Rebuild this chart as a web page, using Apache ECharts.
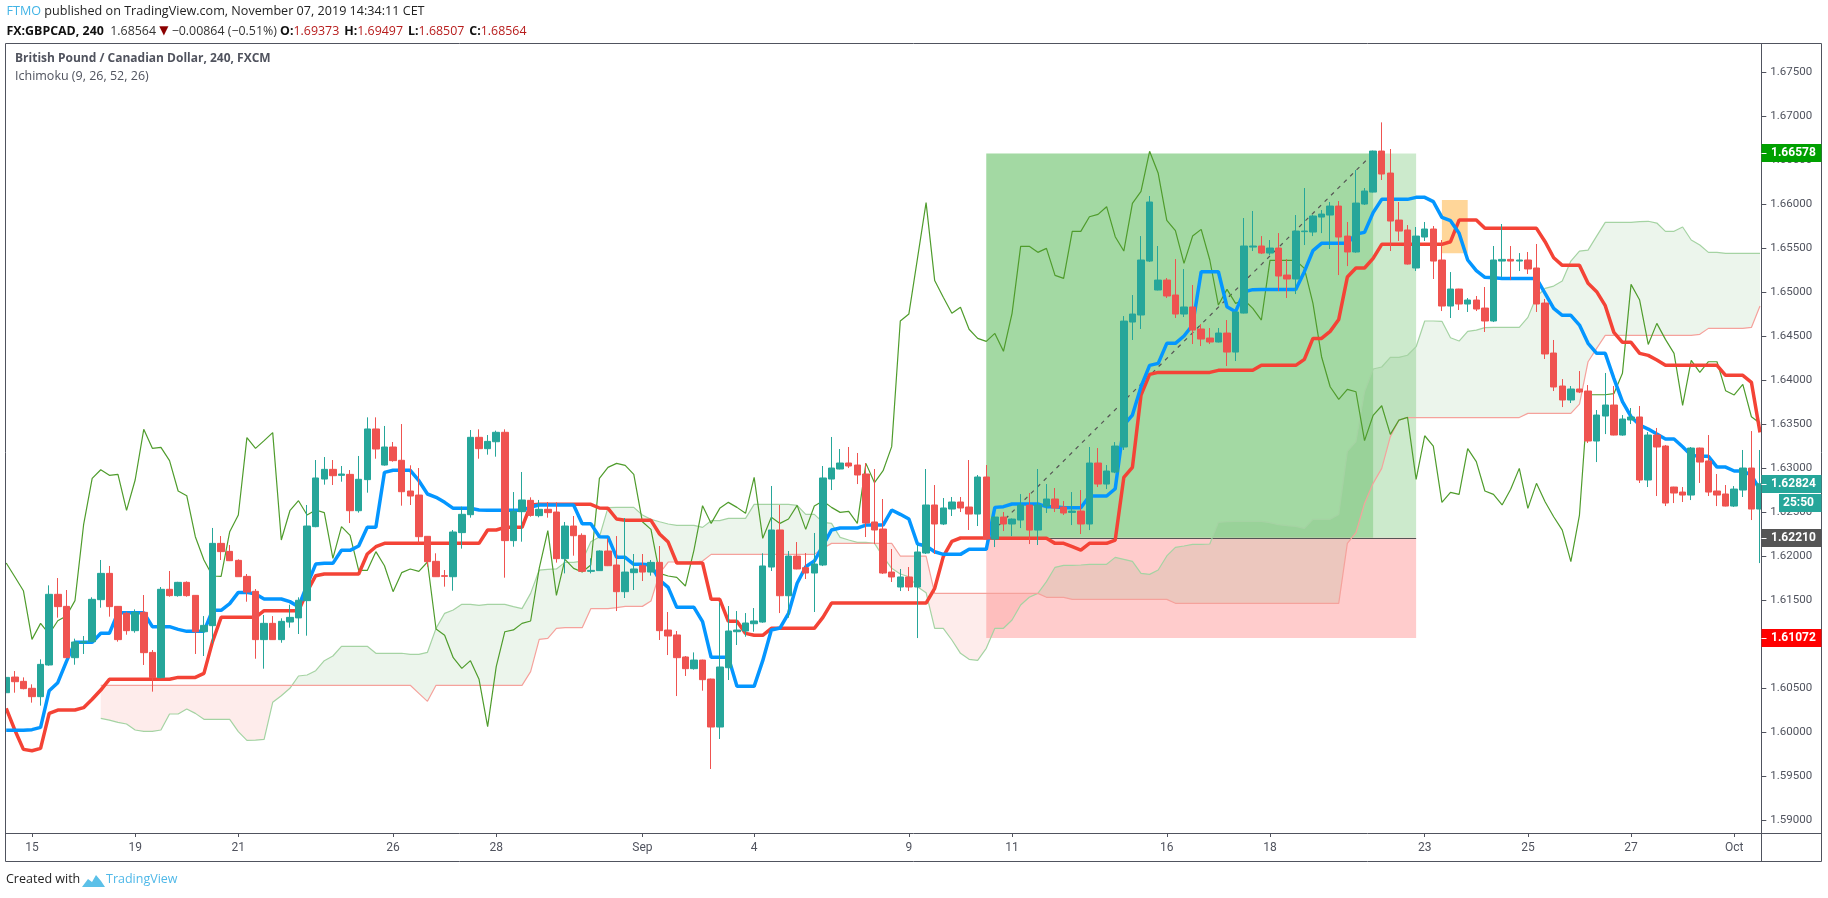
<!DOCTYPE html>
<html><head><meta charset="utf-8">
<style>html,body{margin:0;padding:0;background:#fff;overflow:hidden}#c{width:1828px;height:898px}</style>
<script src="https://cdn.jsdelivr.net/npm/echarts@6/dist/echarts.min.js"></script>
</head><body><div id="c"></div>
<script>
const opens=[1.6045,1.60628,1.60579,1.605,1.60405,1.60765,1.61568,1.61431,1.60848,1.61018,
1.6103,1.61507,1.61806,1.61431,1.61352,1.61155,1.61363,1.60908,1.60621,1.61625,
1.61553,1.61704,1.61556,1.61143,1.61212,1.62147,1.62056,1.61954,1.61772,1.61602,
1.61053,1.61238,1.61053,1.61253,1.6130,1.61496,1.62337,1.62878,1.62988,1.6292,
1.62931,1.62518,1.62871,1.63447,1.63037,1.63242,1.63091,1.62742,1.62696,1.62227,
1.61943,1.6178,1.61768,1.62269,1.62473,1.63352,1.63223,1.63302,1.63409,1.62178,
1.62507,1.62636,1.62462,1.62534,1.62503,1.61973,1.62344,1.62238,1.61829,1.61837,
1.6206,1.61901,1.61598,1.61814,1.61893,1.61821,1.61931,1.61162,1.61106,1.60856,
1.60723,1.60821,1.60605,1.6006,1.60734,1.61143,1.61151,1.61234,1.61253,1.61878,
1.62299,1.61552,1.62003,1.61871,1.6181,1.61901,1.62878,1.62992,1.6306,1.63037,
1.62935,1.6239,1.6231,1.61821,1.61651,1.61765,1.61651,1.62037,1.62583,1.62367,
1.62537,1.62617,1.6256,1.6248,1.62901,1.62196,1.62446,1.62367,1.62412,1.62582,
1.62298,1.62571,1.62651,1.6256,1.62499,1.62514,1.62367,1.6306,1.62821,1.62957,
1.63242,1.64662,1.64742,1.65355,1.65026,1.65139,1.64969,1.64753,1.64833,1.64583,
1.6448,1.64435,1.64537,1.64321,1.64764,1.65514,1.65526,1.65446,1.65503,1.65196,
1.65151,1.65689,1.65685,1.65855,1.65878,1.6598,1.65639,1.65458,1.66003,1.66139,
1.66605,1.66355,1.65821,1.65708,1.65276,1.65628,1.65719,1.65367,1.64844,1.65037,
1.64867,1.64912,1.64821,1.64674,1.65355,1.65374,1.65355,1.65367,1.65276,1.64878,
1.6431,1.63935,1.63776,1.63901,1.63878,1.6331,1.63594,1.63719,1.63378,1.63549,
1.63583,1.62867,1.63378,1.63253,1.62787,1.6273,1.62696,1.6323,1.63083,1.62742,
1.62708,1.62571,1.62753,1.63003,1.62537];
const closes=[1.60624,1.60575,1.60496,1.60405,1.60772,1.61568,1.61428,1.60848,1.61026,1.6103,
1.61511,1.61806,1.61428,1.61053,1.61155,1.61363,1.60905,1.60621,1.61625,1.61553,
1.61704,1.61553,1.61143,1.61215,1.62147,1.62053,1.6195,1.61768,1.61594,1.61053,
1.61238,1.61053,1.61261,1.61306,1.615,1.62344,1.6289,1.62988,1.62916,1.62935,
1.62518,1.62875,1.63447,1.63219,1.63242,1.63087,1.62734,1.62685,1.62223,1.61939,
1.61768,1.61772,1.62276,1.62477,1.63352,1.63223,1.63306,1.63409,1.62178,1.62511,
1.6264,1.62465,1.62534,1.62496,1.61973,1.62344,1.62234,1.61829,1.6184,1.6206,
1.61893,1.61598,1.61821,1.61856,1.61821,1.61931,1.61155,1.61094,1.60848,1.60723,
1.60821,1.60598,1.6006,1.60742,1.61151,1.61162,1.61242,1.61265,1.6189,1.62299,
1.61552,1.62003,1.61856,1.6181,1.61912,1.6289,1.63003,1.6306,1.63026,1.62924,
1.62378,1.62299,1.6181,1.61765,1.61765,1.61651,1.62049,1.62583,1.62367,1.62549,
1.62617,1.62549,1.6248,1.62901,1.62196,1.62446,1.62367,1.62423,1.62582,1.62298,
1.62582,1.62651,1.62548,1.62492,1.62514,1.62367,1.6306,1.62821,1.62969,1.63253,
1.64673,1.64753,1.65367,1.66026,1.65139,1.64958,1.64753,1.64833,1.64571,1.64469,
1.64435,1.64537,1.64321,1.64776,1.65526,1.65526,1.65446,1.65503,1.65185,1.65151,
1.65696,1.65696,1.65867,1.65889,1.6598,1.65628,1.65458,1.66014,1.66151,1.66605,
1.66344,1.6581,1.65696,1.65321,1.65639,1.65719,1.65355,1.64844,1.65037,1.64867,
1.64912,1.6481,1.64674,1.65367,1.65374,1.65355,1.65367,1.65265,1.64867,1.64299,
1.63924,1.63776,1.63901,1.63867,1.6331,1.63605,1.63719,1.63378,1.6356,1.63583,
1.62867,1.63378,1.63242,1.62605,1.62719,1.62696,1.6323,1.63071,1.6273,1.62696,
1.62571,1.62764,1.63003,1.62537,1.62824];
const lows=[1.60424,1.6045,1.60488,1.60337,1.60303,1.60757,1.61303,1.60844,1.60768,1.6089,
1.61026,1.61416,1.61314,1.6103,1.61109,1.61132,1.60765,1.60462,1.60613,1.61541,
1.61541,1.61541,1.6089,1.60867,1.61011,1.61958,1.61946,1.61765,1.61484,1.60836,
1.60723,1.6105,1.61018,1.61189,1.61117,1.61098,1.6233,1.62814,1.6281,1.62848,
1.62378,1.62496,1.62723,1.63109,1.6303,1.63075,1.62575,1.62583,1.62147,1.61882,
1.61765,1.61655,1.61609,1.62087,1.62439,1.63109,1.63155,1.63132,1.61757,1.62109,
1.62166,1.6245,1.62443,1.62439,1.61928,1.61806,1.62007,1.61825,1.61806,1.61833,
1.61889,1.61378,1.61526,1.61617,1.61719,1.6178,1.61049,1.60878,1.60412,1.6064,
1.60712,1.60473,1.59583,1.59924,1.60594,1.60992,1.61086,1.61143,1.61245,1.61833,
1.61355,1.61302,1.61852,1.61742,1.61367,1.61889,1.62753,1.62988,1.63003,1.62821,
1.62219,1.6214,1.61799,1.61708,1.61605,1.61605,1.61071,1.62026,1.62026,1.62355,
1.62458,1.62503,1.62299,1.62344,1.62185,1.62105,1.62287,1.6223,1.62321,1.62139,
1.62128,1.62492,1.62503,1.62469,1.62355,1.62253,1.62298,1.62787,1.62764,1.62945,
1.63208,1.64458,1.64583,1.65344,1.65022,1.64935,1.64708,1.64719,1.64412,1.64389,
1.64412,1.6443,1.64162,1.64219,1.6476,1.65469,1.65435,1.65423,1.65014,1.64935,
1.6498,1.65537,1.65639,1.65673,1.65492,1.65196,1.65298,1.6545,1.65992,1.66135,
1.66276,1.65469,1.65583,1.65315,1.65242,1.65583,1.65151,1.64787,1.64708,1.64799,
1.64776,1.64787,1.64549,1.64662,1.65174,1.65139,1.65242,1.65208,1.64776,1.64242,
1.63878,1.63696,1.63742,1.63855,1.63287,1.63071,1.63389,1.63374,1.6337,1.63503,
1.62833,1.62787,1.62685,1.62571,1.62605,1.62617,1.62639,1.62833,1.62685,1.62571,
1.62567,1.6256,1.62674,1.62412,1.61923];
const highs=[1.60651,1.60696,1.60624,1.60545,1.60829,1.6167,1.61753,1.61617,1.61064,1.61094,
1.61534,1.61958,1.6189,1.61435,1.61371,1.61397,1.6156,1.60935,1.61651,1.61833,
1.6171,1.61715,1.6156,1.61321,1.62322,1.6223,1.62128,1.61965,1.61799,1.61628,
1.61333,1.61321,1.61295,1.6145,1.61534,1.62583,1.63094,1.63128,1.63094,1.63026,
1.6298,1.6314,1.63579,1.63579,1.63481,1.63299,1.63503,1.63034,1.63003,1.6223,
1.62034,1.61844,1.62299,1.62564,1.63435,1.63443,1.63378,1.63428,1.63443,1.6273,
1.62958,1.6267,1.6264,1.62617,1.62613,1.6239,1.62458,1.62261,1.61977,1.62068,
1.62204,1.6223,1.62435,1.62026,1.62026,1.61958,1.62117,1.61367,1.61151,1.60867,
1.60908,1.60825,1.6061,1.61473,1.61435,1.61378,1.61355,1.61412,1.62034,1.62799,
1.62583,1.6206,1.62162,1.62037,1.62265,1.63026,1.63356,1.63219,1.63242,1.63174,
1.6306,1.62992,1.62651,1.62083,1.61856,1.61878,1.62128,1.62992,1.6281,1.62662,
1.62674,1.62674,1.63094,1.62924,1.63037,1.62452,1.62503,1.6243,1.62707,1.62719,
1.62992,1.62821,1.62776,1.62628,1.6273,1.62753,1.63242,1.6323,1.63037,1.63298,
1.6473,1.64969,1.65639,1.66094,1.65526,1.65162,1.65378,1.65264,1.65083,1.64639,
1.64594,1.64594,1.64685,1.6478,1.65844,1.65924,1.65639,1.65594,1.65673,1.65378,
1.65878,1.66185,1.65878,1.65935,1.66026,1.66037,1.65799,1.66389,1.66185,1.6661,
1.66931,1.66628,1.66026,1.65764,1.65742,1.65799,1.65753,1.65594,1.6523,1.6504,
1.64935,1.64958,1.6506,1.65526,1.65776,1.65526,1.65446,1.65458,1.65549,1.64924,
1.64458,1.64014,1.63935,1.64105,1.63946,1.63662,1.64083,1.63935,1.63605,1.63685,
1.63708,1.63412,1.63458,1.63265,1.6279,1.62787,1.63242,1.63235,1.63378,1.62935,
1.6281,1.62798,1.63208,1.63423,1.63208];
const tenkan=[1.60022,1.60022,1.60022,1.6003,1.60056,1.60473,1.60564,1.60803,1.61022,1.61022,
1.61022,1.61125,1.61125,1.61359,1.61359,1.61359,1.61359,1.612,1.612,1.612,
1.6117,1.61147,1.61147,1.61147,1.61386,1.61386,1.61462,1.6159,1.6159,1.61572,
1.61515,1.61515,1.61515,1.61485,1.61428,1.61674,1.61912,1.6192,1.6192,1.62068,
1.62068,1.62117,1.62329,1.62329,1.62954,1.62977,1.62977,1.62977,1.62859,1.62708,
1.6267,1.62613,1.62545,1.62545,1.62545,1.62526,1.62522,1.62522,1.62522,1.62522,
1.62522,1.6256,1.62583,1.62583,1.62583,1.62583,1.62583,1.62371,1.62371,1.62223,
1.6222,1.61988,1.61988,1.61909,1.61909,1.61901,1.6173,1.61647,1.6142,1.6142,
1.6142,1.61257,1.60852,1.60852,1.60852,1.60522,1.60522,1.60522,1.60814,1.61162,
1.61185,1.61352,1.61693,1.61882,1.61946,1.62121,1.62299,1.62321,1.62321,1.62321,
1.62355,1.62355,1.62355,1.62526,1.62477,1.62424,1.6214,1.62117,1.62052,1.62022,
1.62022,1.62022,1.62079,1.62079,1.62079,1.62556,1.62564,1.62594,1.62594,1.62594,
1.62594,1.62564,1.62564,1.62552,1.62552,1.62552,1.62685,1.62685,1.62685,1.62768,
1.63492,1.63605,1.63927,1.6417,1.64192,1.6442,1.6442,1.64503,1.64628,1.65234,
1.65234,1.65234,1.64836,1.6478,1.65007,1.6503,1.65033,1.65033,1.65033,1.65033,
1.65033,1.65234,1.65473,1.65556,1.65556,1.65556,1.65556,1.65662,1.65681,1.65905,
1.66056,1.66056,1.66056,1.66056,1.66079,1.66079,1.6603,1.65852,1.65814,1.6567,
1.65367,1.65246,1.6517,1.65166,1.65158,1.65158,1.65158,1.65158,1.65158,1.64988,
1.64817,1.64738,1.64738,1.64628,1.6442,1.64306,1.64306,1.64022,1.63757,1.63586,
1.63492,1.63446,1.63389,1.63333,1.63333,1.63245,1.63147,1.63136,1.63136,1.63014,
1.63014,1.62969,1.62969,1.62923,1.62753];
const kijun=[1.60272,1.60026,1.59806,1.59791,1.59817,1.60215,1.60253,1.60253,1.60253,1.6028,
1.60375,1.6048,1.60602,1.60602,1.60602,1.60602,1.60602,1.60602,1.60602,1.60602,
1.60624,1.60624,1.60624,1.6067,1.6103,1.61306,1.61306,1.61306,1.61306,1.61306,
1.61382,1.61382,1.61382,1.61382,1.61382,1.61598,1.6178,1.61799,1.61799,1.61799,
1.61799,1.61799,1.62026,1.62109,1.62147,1.62147,1.62147,1.62147,1.62147,1.62147,
1.62147,1.62147,1.62147,1.62147,1.62147,1.62147,1.62299,1.62299,1.62329,1.62329,
1.62329,1.62583,1.62591,1.62591,1.62591,1.62591,1.62591,1.62591,1.62591,1.62549,
1.62545,1.62424,1.62409,1.62409,1.62409,1.62409,1.62253,1.62162,1.61924,1.61924,
1.61924,1.61924,1.61511,1.61511,1.61261,1.61261,1.61124,1.61102,1.61102,1.61181,
1.61181,1.61181,1.61181,1.61181,1.61181,1.61306,1.61469,1.61469,1.61469,1.61469,
1.61469,1.61469,1.61469,1.61469,1.61469,1.61469,1.61469,1.61469,1.61636,1.61996,
1.6217,1.62208,1.62208,1.62208,1.62208,1.62204,1.62204,1.62204,1.62204,1.62204,
1.62204,1.62204,1.62147,1.62147,1.62109,1.62071,1.62147,1.62147,1.62147,1.62185,
1.62897,1.63011,1.63833,1.64067,1.6409,1.6409,1.6409,1.6409,1.6409,1.6409,
1.6409,1.64113,1.64113,1.64113,1.64113,1.64113,1.6417,1.6417,1.6417,1.6417,
1.6417,1.64238,1.64476,1.64476,1.64556,1.64692,1.65173,1.65276,1.65276,1.65386,
1.65545,1.65545,1.65545,1.65545,1.65545,1.65545,1.65545,1.65545,1.65575,1.65821,
1.65821,1.65821,1.65727,1.65727,1.65727,1.65727,1.65727,1.65727,1.65727,1.65575,
1.65393,1.65306,1.65306,1.65306,1.65102,1.65007,1.64848,1.64545,1.64431,1.64431,
1.64306,1.64283,1.6423,1.6417,1.6417,1.6417,1.6417,1.6417,1.6417,1.6417,
1.64056,1.64056,1.64056,1.63977,1.63408];
const chikou=[1.61924,1.61768,1.61609,1.61056,1.61238,1.61117,1.61268,1.61321,1.61496,1.62356,
1.62886,1.62984,1.6292,1.62931,1.62522,1.62867,1.63443,1.63227,1.63238,1.63087,
1.62742,1.62689,1.62223,1.61958,1.61776,1.61772,1.6228,1.62469,1.63348,1.63227,
1.63314,1.63405,1.62185,1.62518,1.62632,1.62469,1.62526,1.62496,1.61977,1.62337,
1.62238,1.6184,1.6184,1.62053,1.61893,1.61598,1.61814,1.61856,1.61829,1.61935,
1.61174,1.61102,1.60848,1.60727,1.60814,1.60602,1.60064,1.60746,1.61143,1.61163,
1.61238,1.61265,1.61863,1.62291,1.61556,1.61965,1.61863,1.61821,1.61901,1.62886,
1.63011,1.63056,1.63034,1.62931,1.62393,1.62306,1.61806,1.61776,1.61761,1.61662,
1.62071,1.62575,1.62374,1.62545,1.62613,1.62556,1.62488,1.62897,1.62204,1.62443,
1.62374,1.62424,1.62579,1.62306,1.62571,1.62628,1.62556,1.62499,1.62511,1.62374,
1.63056,1.62837,1.62973,1.63246,1.64674,1.64754,1.65386,1.66019,1.65133,1.64943,
1.64761,1.6483,1.6458,1.64477,1.64442,1.64533,1.64329,1.64761,1.65522,1.65522,
1.65454,1.65499,1.65192,1.65158,1.65692,1.65692,1.65859,1.65886,1.65973,1.65632,
1.65469,1.66011,1.66147,1.66602,1.66352,1.65817,1.657,1.65329,1.65639,1.65715,
1.65367,1.64855,1.65033,1.64874,1.64912,1.64817,1.64685,1.65363,1.65363,1.65363,
1.65363,1.65272,1.64874,1.64268,1.63927,1.63783,1.63897,1.6387,1.63314,1.63601,
1.63711,1.63386,1.63548,1.63579,1.62874,1.6337,1.63253,1.62613,1.62727,1.62704,
1.63223,1.63075,1.62742,1.62704,1.62583,1.62761,1.62999,1.62545,1.62829,1.6262,
1.6245,1.62298,1.61939,1.62469,1.63836,1.63836,1.63836,1.63848,1.64079,1.6509,
1.64912,1.64408,1.64647,1.64465,1.64306,1.63715,1.64227,1.6409,1.64211,1.64211,
1.63882,1.63833,1.63954,1.63586,1.63511];
const senkouA=[null,null,null,null,null,null,null,null,null,null,
null,1.60159,1.60139,1.60113,1.60094,1.60026,1.60011,1.60011,1.60026,1.60208,
1.60208,1.60265,1.60215,1.60147,1.60147,1.60147,1.60147,1.60007,1.59909,1.59912,
1.5992,1.60341,1.60416,1.605,1.6064,1.60651,1.607,1.60814,1.60867,1.60977,
1.60977,1.60977,1.60977,1.60898,1.60898,1.60898,1.60898,1.60886,1.60886,1.60909,
1.61181,1.61352,1.6139,1.61454,1.61454,1.61443,1.61454,1.61454,1.61454,1.61428,
1.61405,1.61579,1.61844,1.61852,1.61856,1.61931,1.61931,1.61946,1.62166,1.62219,
1.62553,1.62556,1.62556,1.62556,1.62469,1.6242,1.62393,1.62367,1.62352,1.62352,
1.62352,1.62329,1.62405,1.62405,1.62431,1.62431,1.62431,1.6259,1.6259,1.6259,
1.6259,1.6259,1.62579,1.62477,1.62477,1.62386,1.62374,1.62215,1.62185,1.62159,
1.62159,1.62147,1.61996,1.61863,1.61799,1.61768,1.61655,1.61587,1.61181,1.61181,
1.61049,1.60897,1.60829,1.60818,1.60954,1.61182,1.61182,1.61276,1.61447,1.61534,
1.61579,1.61712,1.61875,1.61897,1.61897,1.61901,1.61909,1.61909,1.61909,1.61988,
1.61966,1.61943,1.61807,1.61795,1.61844,1.62004,1.62102,1.62117,1.62136,1.62136,
1.6214,1.62386,1.62393,1.62397,1.62397,1.62397,1.62397,1.62382,1.62359,1.62348,
1.6234,1.62317,1.6242,1.6242,1.6242,1.62476,1.63192,1.63302,1.6387,1.64128,
1.64151,1.64261,1.64261,1.64285,1.64382,1.64674,1.64674,1.6467,1.64484,1.64446,
1.64556,1.64571,1.64598,1.64602,1.64602,1.64602,1.64602,1.64715,1.6495,1.65045,
1.65071,1.65128,1.65355,1.65469,1.6548,1.65639,1.65795,1.65795,1.65795,1.65795,
1.65803,1.65807,1.65787,1.65693,1.65693,1.65742,1.65594,1.65537,1.65454,1.65454,
1.65443,1.65443,1.65443,1.65443,1.65443];
const senkouB=[null,null,null,null,null,null,null,null,null,null,
null,1.60534,1.60534,1.60534,1.60534,1.60534,1.60534,1.60534,1.60534,1.60534,
1.60534,1.60534,1.60534,1.60534,1.60534,1.60534,1.60534,1.60534,1.60534,1.60534,
1.60534,1.60534,1.60534,1.60534,1.60534,1.60534,1.60534,1.60534,1.60534,1.60534,
1.60534,1.60534,1.60534,1.60534,1.60534,1.60534,1.60534,1.60534,1.60443,1.60352,
1.60534,1.60534,1.60534,1.60534,1.60534,1.60534,1.60534,1.60534,1.60534,1.60534,
1.60534,1.60689,1.61056,1.61068,1.61181,1.61189,1.61189,1.61189,1.61405,1.61405,
1.61405,1.61416,1.61431,1.61431,1.61431,1.61492,1.61806,1.61935,1.61935,1.61935,
1.61935,1.61946,1.62022,1.62022,1.62022,1.62022,1.62022,1.62022,1.62022,1.62022,
1.62022,1.62022,1.62022,1.62022,1.62022,1.6209,1.62147,1.62147,1.62147,1.62147,
1.62147,1.62147,1.62147,1.62147,1.62003,1.62003,1.62003,1.62003,1.61579,1.61579,
1.61579,1.61579,1.61579,1.61579,1.61579,1.61579,1.61579,1.61579,1.61579,1.61579,
1.61579,1.61534,1.61534,1.61534,1.61511,1.61511,1.61511,1.61511,1.61511,1.61511,
1.61511,1.61511,1.61511,1.61511,1.61511,1.61511,1.61466,1.61466,1.61466,1.61466,
1.61466,1.61466,1.61466,1.61466,1.61466,1.61466,1.61466,1.61466,1.61466,1.61466,
1.61466,1.61466,1.61466,1.61466,1.61466,1.61466,1.62147,1.62268,1.62601,1.62829,
1.62999,1.63359,1.63548,1.63577,1.63577,1.63577,1.63577,1.63577,1.63577,1.63577,
1.63577,1.63577,1.63577,1.63577,1.63577,1.63577,1.63577,1.63624,1.63624,1.63624,
1.63624,1.63624,1.63624,1.6373,1.64211,1.64363,1.64511,1.64511,1.64511,1.64511,
1.64511,1.64511,1.64511,1.64511,1.64511,1.64511,1.64511,1.64522,1.6459,1.6459,
1.6459,1.6459,1.6459,1.64601,1.64844];
const xTickBars=[3,15,27,45,57,74,87,105,117,135,147,165,177,189,201];
const xTickLabels=['15','19','21','26','28','Sep','4','9','11','16','18','23','25','27','Oct'];
const yTickValues=[1.59,1.595,1.6,1.605,1.61,1.615,1.62,1.625,1.63,1.635,1.64,1.645,1.65,1.655,1.66,1.665,1.67,1.675];
const entryPrice=1.6221, targetPrice=1.66578, stopPrice=1.61072, lastPrice=1.62824;
const tradeBars=[114,159,164];
const orangeBars=[167,170], orangePrices=[1.66049,1.65443];

const categories=opens.map((_,i)=>String(i));
const AXIS='#50535e', TEXT='#50535e';
const yFont='Roboto, sans-serif';
const grid={left:1.9,top:43.5,width:1762.4,height:789.5};
const yMin=1.588557,yMax=1.678273;

const runs=[];
(function(){
  let cur=null;
  for(let i=0;i<opens.length;i++){
    if(senkouA[i]==null) continue;
    const s=senkouA[i]>=senkouB[i]?1:-1;
    if(!cur||cur.sign!==s){cur={sign:s,from:i,to:i};runs.push(cur);} else cur.to=i;
  }
})();
function crossFrac(i){const d0=senkouA[i]-senkouB[i],d1=senkouA[i+1]-senkouB[i+1];return d0/(d0-d1);}

function renderCloud(params,api){
  const r=runs[params.dataIndex];
  const up=[],dn=[];
  if(r.from>0 && senkouA[r.from-1]!=null){
    const t=crossFrac(r.from-1);
    const a=api.coord([r.from-1,senkouA[r.from-1]]),b=api.coord([r.from,senkouA[r.from]]);
    up.push([a[0]+(b[0]-a[0])*t,a[1]+(b[1]-a[1])*t]);
  }
  for(let i=r.from;i<=r.to;i++){up.push(api.coord([i,senkouA[i]]));dn.unshift(api.coord([i,senkouB[i]]));}
  if(r.to<opens.length-1){
    const t=crossFrac(r.to);
    const a=api.coord([r.to,senkouA[r.to]]),b=api.coord([r.to+1,senkouA[r.to+1]]);
    up.push([a[0]+(b[0]-a[0])*t,a[1]+(b[1]-a[1])*t]);
  }
  return {type:'polygon',shape:{points:up.concat(dn)},style:{fill:r.sign>0?'rgba(67,160,71,0.1)':'rgba(244,67,54,0.1)',stroke:null},silent:true};
}

const isTick=i=>xTickBars.indexOf(i)>=0;
const chart=echarts.init(document.getElementById('c'),null,{renderer:'canvas'});
const opt={
  animation:false,backgroundColor:'#fff',
  title:[
    {left:6.5,top:5,padding:0,text:'{a|FTMO}{b| published on TradingView.com, November 07, 2019 14:34:11 CET}',
     textStyle:{rich:{a:{color:'#42b4e6',fontSize:12.6,fontWeight:'normal',fontFamily:'Open Sans'},b:{color:'#222',fontSize:12.6,fontWeight:'normal',fontFamily:'Open Sans'}}}},
    {left:6.5,top:22,padding:0,text:'{h|FX:GBPCAD, 240}{b|  1.68564 }{t|▼}{b| −0.00864 (−0.51%) }{h|O:}{r|1.69373} {h|H:}{r|1.69497} {h|L:}{r|1.68507} {h|C:}{r|1.68564}',
     textStyle:{rich:{h:{color:'#111',fontWeight:'bold',fontSize:12.4,fontFamily:'Open Sans'},b:{color:'#333',fontWeight:'normal',fontSize:12.4,fontFamily:'Open Sans'},r:{color:'#b71c1c',fontWeight:'normal',fontSize:12.4,fontFamily:'Open Sans'},t:{color:'#8b0000',fontWeight:'normal',fontSize:12,fontFamily:'DejaVu Sans'}}}},
    {left:15,top:53,padding:0,text:'British Pound / Canadian Dollar, 240, FXCM',textStyle:{color:'#50535e',fontSize:12,fontWeight:'bold',fontFamily:'Open Sans'}},
    {left:15,top:70,padding:0,text:'Ichimoku (9, 26, 52, 26)',textStyle:{color:'#50535e',fontSize:12.5,fontWeight:'normal',fontFamily:'Open Sans'}},
    {left:6,top:873,padding:0,text:'Created with',textStyle:{color:'#222',fontSize:12.5,fontWeight:'normal',fontFamily:'Open Sans'}},
    {left:106,top:873,padding:0,text:'TradingView',textStyle:{color:'#4fb8e8',fontSize:12.5,fontWeight:'normal',fontFamily:'Open Sans'}}
  ],
  grid:Object.assign({containLabel:false},grid),
  tooltip:{show:false},
  xAxis:{type:'category',data:categories,boundaryGap:true,
    axisLine:{show:false},
    axisTick:{show:true,length:4,alignWithLabel:true,interval:(i)=>isTick(i),lineStyle:{color:AXIS}},
    axisLabel:{show:true,margin:9,interval:(i)=>isTick(i),formatter:(v,i)=>xTickLabels[xTickBars.indexOf(i)]||'',color:TEXT,fontSize:12,fontFamily:yFont},
    splitLine:{show:false},z:20},
  yAxis:{type:'value',position:'right',min:yMin,max:yMax,offset:-3,scale:false,
    axisLine:{show:true,onZero:false,lineStyle:{color:AXIS,width:1}},
    axisTick:{show:true,length:5,lineStyle:{color:AXIS},customValues:yTickValues},
    axisLabel:{show:true,margin:9,align:'left',color:TEXT,fontSize:11.5,fontFamily:yFont,customValues:yTickValues,formatter:v=>v.toFixed(5),hideOverlap:false},
    splitLine:{show:false},z:20},
  series:[
    {name:'position',type:'line',data:closes,symbol:'none',lineStyle:{opacity:0},z:1,silent:true,
     markArea:{silent:true,z:1,data:[
       [{xAxis:tradeBars[0],yAxis:entryPrice,itemStyle:{color:'rgba(0,150,0,0.2)'}},{xAxis:tradeBars[2],yAxis:targetPrice}],
       [{xAxis:tradeBars[0],yAxis:entryPrice,itemStyle:{color:'rgba(0,150,0,0.2)'}},{xAxis:tradeBars[1],yAxis:targetPrice}],
       [{xAxis:tradeBars[0],yAxis:stopPrice,itemStyle:{color:'rgba(255,0,0,0.2)'}},{xAxis:tradeBars[2],yAxis:entryPrice}],
       [{xAxis:orangeBars[0],yAxis:orangePrices[1],itemStyle:{color:'rgba(255,152,0,0.4)'}},{xAxis:orangeBars[1],yAxis:orangePrices[0]}]
     ]},
     markLine:{silent:true,z:3,symbol:'none',label:{show:false},animation:false,data:[
       [{xAxis:tradeBars[0],yAxis:entryPrice,lineStyle:{color:'#555',width:1,type:'solid'}},{xAxis:tradeBars[2],yAxis:entryPrice}],
       [{xAxis:tradeBars[0],yAxis:entryPrice,lineStyle:{color:'#555',width:1.2,type:[4,5]}},{xAxis:tradeBars[1],yAxis:targetPrice}]
     ]}},
    {name:'cloud',type:'custom',renderItem:renderCloud,coordinateSystem:'cartesian2d',z:2,silent:true,clip:true,
     data:runs.map((r,k)=>[k,1.61]),encode:{x:0,y:1}},
    {name:'Senkou A',type:'line',data:senkouA,connectNulls:false,symbol:'none',showSymbol:false,lineStyle:{color:'#a5d3a3',width:1.2},z:3,silent:true},
    {name:'Senkou B',type:'line',data:senkouB,connectNulls:false,symbol:'none',showSymbol:false,lineStyle:{color:'#f5a29c',width:1.2},z:3,silent:true},
    {name:'Chikou',type:'line',data:chikou,symbol:'none',showSymbol:false,lineStyle:{color:'#4f9c2c',width:1.2},z:3,silent:true},
    {name:'Kijun',type:'line',data:kijun,symbol:'none',showSymbol:false,lineStyle:{color:'#f44336',width:3.5},z:4,silent:true},
    {name:'Tenkan',type:'line',data:tenkan,symbol:'none',showSymbol:false,lineStyle:{color:'#0496ff',width:3.5},z:4,silent:true},
    {name:'GBPCAD',type:'candlestick',data:opens.map((o,i)=>[o,closes[i],lows[i],highs[i]]),barWidth:7,z:5,silent:true,
     itemStyle:{color:'#26a69a',color0:'#ef5350',borderColor:'#26a69a',borderColor0:'#ef5350',borderWidth:1}}
  ]
};
chart.setOption(opt);

function y(v){return chart.convertToPixel({yAxisIndex:0},v);}
const FRAME={l:5.5,t:43.5,r:1821.5,b:861.5,ax:1761.5,xa:833.5};
function tag(price,label,color){
  const c=Math.round(y(price));
  return [
    {type:'rect',z:30,silent:true,shape:{x:FRAME.ax,y:c-9,width:FRAME.r-FRAME.ax,height:18},style:{fill:color}},
    {type:'line',z:31,silent:true,shape:{x1:FRAME.ax,y1:c+.5,x2:FRAME.ax+5,y2:c+.5},style:{stroke:'#fff',lineWidth:1}},
    {type:'text',z:31,silent:true,x:1771,y:c,style:{text:label,fill:'#fff',font:'bold 12px Roboto, sans-serif',textVerticalAlign:'middle'}}
  ];
}
const lastY=Math.round(y(lastPrice));
chart.setOption({graphic:[].concat(
  [{type:'rect',z:10,silent:true,shape:{x:0,y:44,width:5.5,height:790},style:{fill:'#fff'}},
   {type:'rect',z:10,silent:true,shape:{x:1762,y:44,width:8,height:790},style:{fill:'#fff'}},
   {type:'rect',z:25,silent:true,shape:{x:FRAME.l,y:FRAME.t,width:FRAME.r-FRAME.l,height:FRAME.b-FRAME.t},style:{fill:'none',stroke:AXIS,lineWidth:1}},
   {type:'line',z:25,silent:true,shape:{x1:FRAME.l,y1:FRAME.xa,x2:FRAME.r,y2:FRAME.xa},style:{stroke:AXIS,lineWidth:1}},
   {type:'line',z:25,silent:true,shape:{x1:FRAME.ax,y1:FRAME.t,x2:FRAME.ax,y2:FRAME.b},style:{stroke:AXIS,lineWidth:1}},
   {type:'polygon',z:25,silent:true,shape:{points:[[82,887],[88,879],[92,882],[96,875],[101,881],[105,887]]},style:{fill:'#5bc0e8'}}],
  tag(targetPrice,'1.66578','#00a000'),
  tag(stopPrice,'1.61072','#ff0000'),
  tag(entryPrice,'1.62210','#555555'),
  tag(lastPrice,'1.62824','#26a69a'),
  [{type:'rect',z:32,silent:true,shape:{x:1779,y:lastY+10,width:42.5,height:18},style:{fill:'#26a69a'}},
   {type:'text',z:33,silent:true,x:1783,y:lastY+19,style:{text:'25:50',fill:'#fff',font:'bold 12px Roboto, sans-serif',textVerticalAlign:'middle'}}]
)});
</script></body></html>
